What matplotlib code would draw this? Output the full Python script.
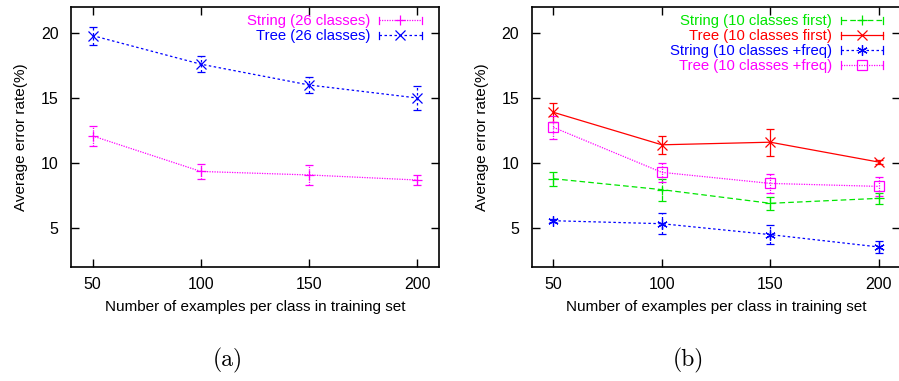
import matplotlib
matplotlib.use("Agg")
import matplotlib.pyplot as plt
from matplotlib.lines import Line2D
from matplotlib.legend_handler import HandlerLine2D

# ---------------- data ----------------
n_examples = [50, 100, 150, 200]

# panel (a)
string26 = [12.08, 9.35, 9.08, 8.69]
string26_err = [0.8, 0.6, 0.8, 0.35]
tree26 = [19.8, 17.6, 16.0, 15.0]
tree26_err = [0.7, 0.6, 0.65, 0.95]

# panel (b)
string10_first = [8.79, 7.95, 6.9, 7.28]
string10_first_err = [0.55, 0.85, 0.5, 0.4]
tree10_first = [13.9, 11.4, 11.6, 10.07]
tree10_first_err = [0.75, 0.67, 1.05, 0.15]
string10_freq = [5.56, 5.33, 4.49, 3.54]
string10_freq_err = [0.12, 0.8, 0.75, 0.45]
tree10_freq = [12.74, 9.28, 8.43, 8.2]
tree10_freq_err = [0.87, 0.72, 0.7, 0.7]

labels_a = ["String (26 classes)", "Tree (26 classes)"]
labels_b = ["String (10 classes first)", "Tree (10 classes first)",
            "String (10 classes +freq)", "Tree (10 classes +freq)"]
xticks = [50, 100, 150, 200]
yticks = [5, 10, 15, 20]
xlabel = "Number of examples per class in training set"
ylabel = "Average error rate(%)"
panel_labels = ["(a)", "(b)"]

FONT = "Liberation Sans"
plt.rcParams['font.family'] = [FONT, 'DejaVu Sans']

W, H = 899, 381
fig = plt.figure(figsize=(W / 100, H / 100), dpi=100)


def ax_rect(x0, x1, ytop, ybot):
    return [x0 / W, 1 - ybot / H, (x1 - x0) / W, (ybot - ytop) / H]


axA = fig.add_axes(ax_rect(71, 439, 7, 267))
axB = fig.add_axes(ax_rect(531.7, 900.5, 7, 267))

MAG = "#ff00ff"
BLUE = "#0000ff"
GREEN = "#00e600"
RED = "#ff0000"

DOT = (0, (1.0, 1.0))
SDASH = (0, (2.0, 2.0))
DASH = (0, (4.5, 2.5))
SOLID = "-"


class CapHandler(HandlerLine2D):
    def create_artists(self, legend, orig_handle, xdescent, ydescent,
                       width, height, fontsize, trans):
        arts = super().create_artists(legend, orig_handle, xdescent, ydescent,
                                      width, height, fontsize, trans)
        y = height / 2 - ydescent
        c = 2.6
        for x in (-xdescent, -xdescent + width):
            l = Line2D([x, x], [y - c, y + c], color=orig_handle.get_color(),
                       lw=orig_handle.get_linewidth(), linestyle='-')
            l.set_transform(trans)
            arts.append(l)
        return arts


def series(ax, y, e, color, ls, marker, ms, label):
    eb = ax.errorbar(n_examples, y, yerr=e, color=color, linestyle=ls,
                     marker=marker, markersize=ms, markeredgewidth=0.9,
                     markerfacecolor='none', lw=0.9, capsize=2.6,
                     elinewidth=0.9, capthick=0.9, zorder=3)
    eb[2][0].set_linestyle(ls if ls != SOLID else '-')
    h = Line2D([], [], color=color, linestyle=ls, marker=marker,
               markersize=ms, markeredgewidth=0.9, markerfacecolor='none', lw=0.9)
    return h


def style(ax):
    ax.set_xlim(40, 210)
    ax.set_ylim(2, 22)
    ax.set_xticks(xticks)
    ax.set_yticks(yticks)
    ax.tick_params(direction='in', length=6, width=1, top=True, right=True,
                   labelsize=11.5, pad=9, colors='black')
    ax.tick_params(axis='x', pad=7)
    for s in ax.spines.values():
        s.set_linewidth(1.2)
    ax.set_xlabel(xlabel, fontsize=11, labelpad=6)
    ax.set_ylabel(ylabel, fontsize=11, labelpad=9)


ha = [series(axA, string26, string26_err, MAG, DOT, '+', 7.5, labels_a[0]),
      series(axA, tree26, tree26_err, BLUE, SDASH, 'x', 6.5, labels_a[1])]
hb = [series(axB, string10_first, string10_first_err, GREEN, DASH, '+', 7.5, labels_b[0]),
      series(axB, tree10_first, tree10_first_err, RED, SOLID, 'x', 6.5, labels_b[1]),
      series(axB, string10_freq, string10_freq_err, BLUE, SDASH, (6, 2, 0), 7.5, labels_b[2]),
      series(axB, tree10_freq, tree10_freq_err, MAG, DOT, 's', 6.5, labels_b[3])]

for ax, hs, labs in ((axA, ha, labels_a), (axB, hb, labels_b)):
    style(ax)
    leg = ax.legend(hs, labs, loc='upper right', bbox_to_anchor=(1 - 10 / 368, 1),
                    markerfirst=False, frameon=False,
                    fontsize=10.7, labelcolor='linecolor', handlelength=2.85,
                    handletextpad=0.6, labelspacing=0.06, borderaxespad=0.3,
                    borderpad=0.2, handler_map={Line2D: CapHandler(numpoints=1)})

fig.text(228 / W, 1 - 360 / H, panel_labels[0], fontfamily='cmr10', fontsize=17,
         ha='center', va='center')
fig.text(688 / W, 1 - 360 / H, panel_labels[1], fontfamily='cmr10', fontsize=17,
         ha='center', va='center')

fig.savefig("out.png", dpi=100)
